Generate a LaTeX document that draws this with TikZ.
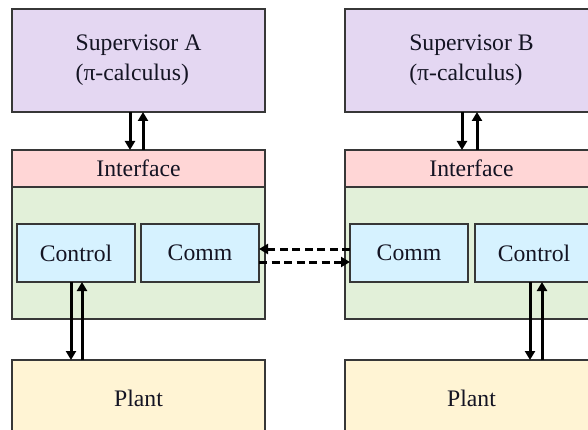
\documentclass[tikz,border=0pt]{standalone}
\usepackage{fontspec}
\setmainfont{Liberation Serif}
\usetikzlibrary{arrows.meta}
\definecolor{supcol}{RGB}{228,215,242}
\definecolor{intcol}{RGB}{255,214,214}
\definecolor{grncol}{RGB}{226,240,217}
\definecolor{ctlcol}{RGB}{214,242,255}
\definecolor{plncol}{RGB}{255,244,212}
\definecolor{edgecol}{RGB}{55,55,55}
\definecolor{txtcol}{RGB}{20,20,35}
\tikzset{
  blk/.style={draw=edgecol, line width=1.4pt, inner sep=0pt, outer sep=0pt, text=txtcol,
    font=\fontsize{23.7}{30}\selectfont},
  arr/.style={line width=3pt, -{Triangle[length=9pt,width=10pt]}},
  dsh/.style={line width=3pt, dash pattern=on 8pt off 4.5pt, -{Triangle[length=9pt,width=10pt]}},
}
\begin{document}
\begin{tikzpicture}[x=1pt,y=-1pt]
\useasboundingbox (0,0) rectangle (588,430);
\clip (0,0) rectangle (588,430);
% left column
\node[blk, fill=supcol, minimum width=253pt, minimum height=103pt, align=left] (supA) at (138.5,60.5) {Supervisor A\\(π-calculus)};
\node[blk, fill=grncol, minimum width=253pt, minimum height=132pt] (grnA) at (138.5,253) {};
\node[blk, fill=intcol, minimum width=253pt, minimum height=37pt] (intA) at (138.5,168.5) {Interface};
\node[blk, fill=ctlcol, minimum width=118pt, minimum height=58pt] (ctlA) at (76,253) {Control};
\node[blk, fill=ctlcol, minimum width=118pt, minimum height=58pt] (comA) at (200,253) {Comm};
\node[blk, fill=plncol, minimum width=253pt, minimum height=100pt, text depth=0pt] (plnA) at (138.5,410) {};
\node[text=txtcol, font=\fontsize{23.7}{30}\selectfont] (plnAt) at (138.5,398) {Plant};
% right column
\node[blk, fill=supcol, minimum width=253pt, minimum height=103pt, align=left] (supB) at (471.5,60.5) {Supervisor B\\(π-calculus)};
\node[blk, fill=grncol, minimum width=253pt, minimum height=132pt] (grnB) at (471.5,253) {};
\node[blk, fill=intcol, minimum width=253pt, minimum height=37pt] (intB) at (471.5,168.5) {Interface};
\node[blk, fill=ctlcol, minimum width=118pt, minimum height=58pt] (comB) at (409,253) {Comm};
\node[blk, fill=ctlcol, minimum width=118pt, minimum height=58pt] (ctlB) at (534,253) {Control};
\node[blk, fill=plncol, minimum width=253pt, minimum height=100pt] (plnB) at (471.5,410) {};
\node[text=txtcol, font=\fontsize{23.7}{30}\selectfont] (plnBt) at (471.5,398) {Plant};
% supervisor <-> interface
\draw[arr] ([xshift=-8.5pt]supA.south) -- ([xshift=-8.5pt]intA.north);
\draw[arr] ([xshift=4.5pt]intA.north) -- ([xshift=4.5pt]supA.south);
\draw[arr] ([xshift=-9.5pt]supB.south) -- ([xshift=-9.5pt]intB.north);
\draw[arr] ([xshift=5.5pt]intB.north) -- ([xshift=5.5pt]supB.south);
% control <-> plant
\draw[arr] ([xshift=-5pt]ctlA.south) -- ([xshift=-5pt]ctlA.south |- plnA.north);
\draw[arr] ([xshift=6pt]ctlA.south |- plnA.north) -- ([xshift=6pt]ctlA.south);
\draw[arr] ([xshift=-4pt]ctlB.south) -- ([xshift=-4pt]ctlB.south |- plnB.north);
\draw[arr] ([xshift=8pt]ctlB.south |- plnB.north) -- ([xshift=8pt]ctlB.south);
% comm <-> comm
\draw[dsh] ([yshift=4pt]comB.west) -- ([yshift=4pt]comA.east);
\draw[dsh] ([yshift=-9pt]comA.east) -- ([yshift=-9pt]comB.west);
\end{tikzpicture}
\end{document}
